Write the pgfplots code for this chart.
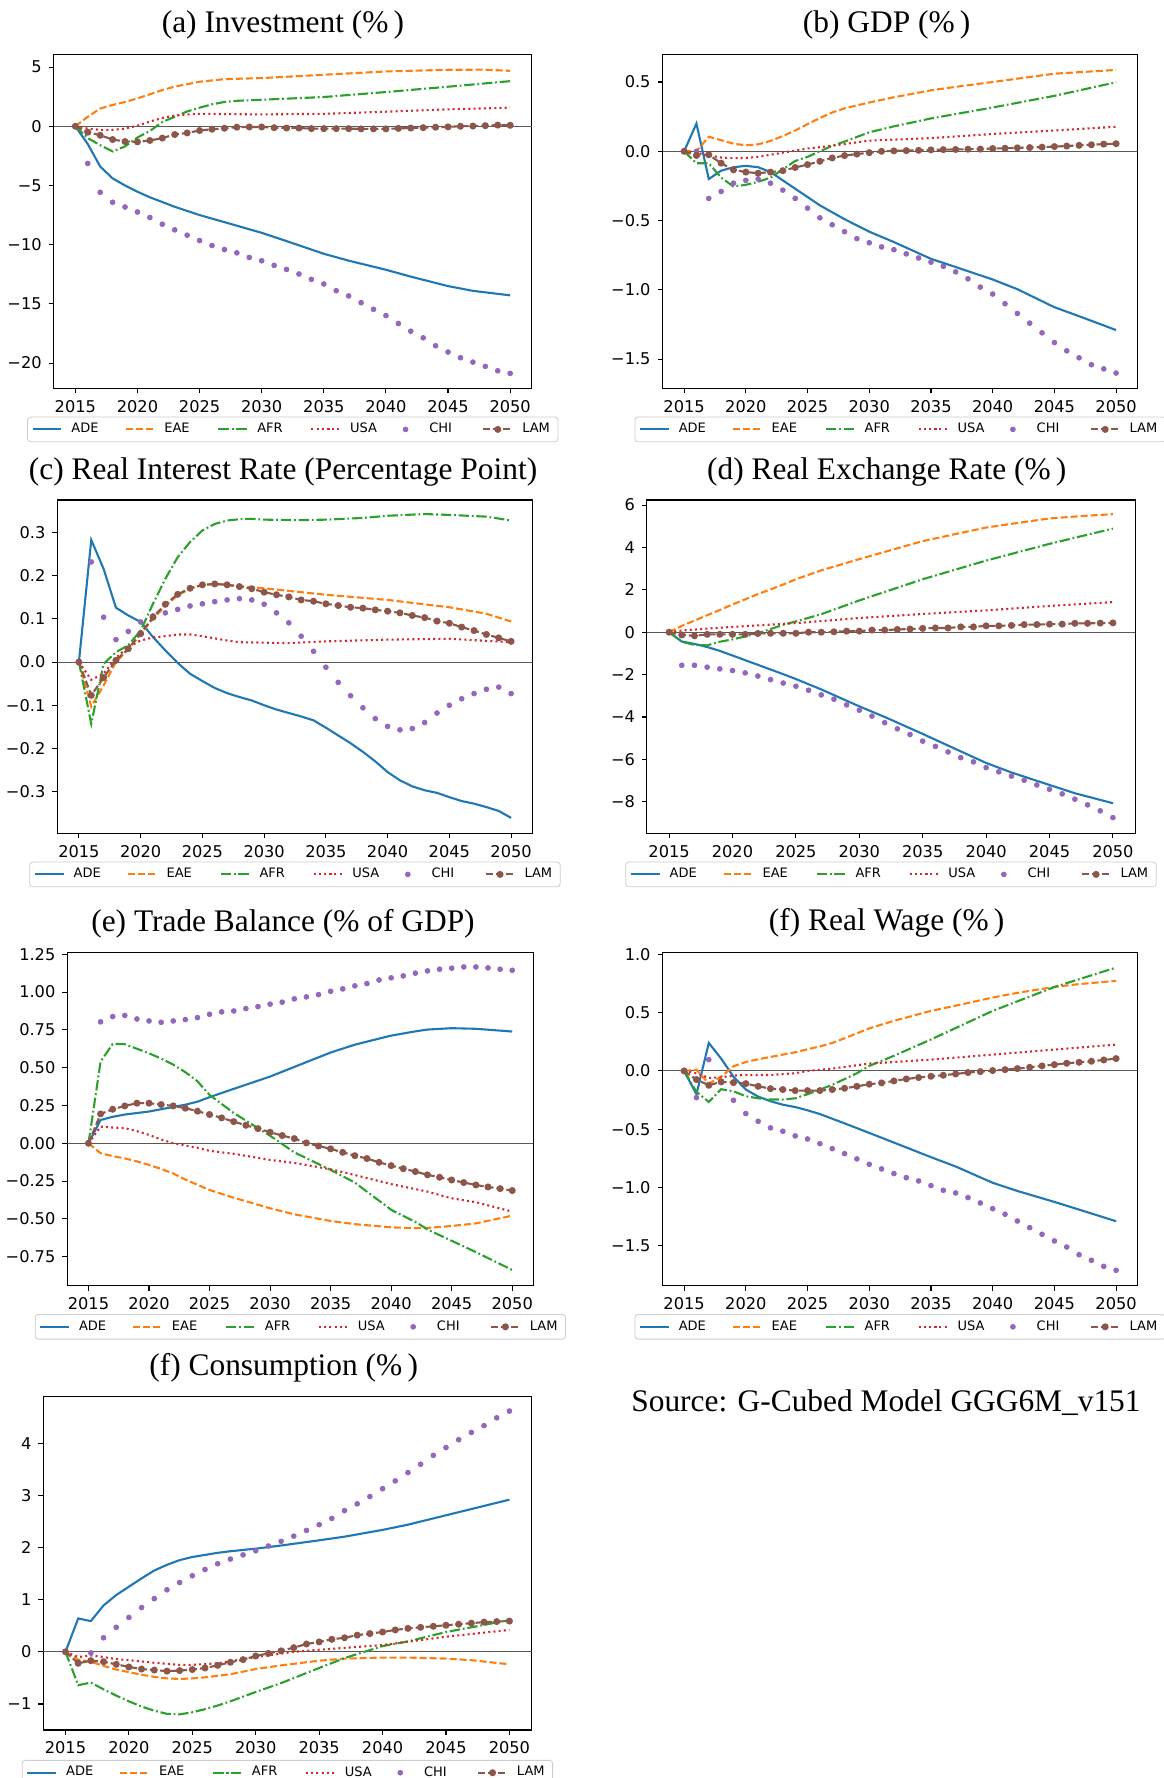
\documentclass[border=0pt]{standalone}
\usepackage{fontspec}
\setmainfont{Liberation Serif}
\newfontfamily\dejavu{DejaVu Sans}
\usepackage{pgfplots}
\pgfplotsset{compat=1.18}
\definecolor{cADE}{HTML}{1F77B4}
\definecolor{cEAE}{HTML}{FF7F0E}
\definecolor{cAFR}{HTML}{2CA02C}
\definecolor{cUSA}{HTML}{D62728}
\definecolor{cCHI}{HTML}{9467BD}
\definecolor{cLAM}{HTML}{8C564B}
\newcommand\tickfont{\dejavu\fontsize{8.1}{9.7}\selectfont}
\newcommand\legfont{\dejavu\fontsize{6.5}{7.8}\selectfont}
\newcommand\titfont{\fontsize{15.7}{19}\selectfont}
\newcommand\lgd[1]{\makebox[24.5pt][l]{#1}}
\pgfplotsset{
 legend image code/.code={\draw[mark repeat=2,mark phase=2,#1] plot coordinates {(0pt,0pt) (7.2pt,0pt) (14.4pt,0pt)};\path (16.9pt,0pt);},
 sADE/.style={color=cADE, line width=1.05pt, solid, mark=none},
 sEAE/.style={color=cEAE, line width=1.05pt, dash pattern=on 3.5pt off 1.5pt, mark=none},
 sAFR/.style={color=cAFR, line width=1.05pt, dash pattern=on 5.2pt off 1.4pt on 0.9pt off 1.4pt, mark=none},
 sUSA/.style={color=cUSA, line width=1.05pt, dash pattern=on 1.0pt off 1.6pt, mark=none},
 sCHI/.style={color=cCHI, only marks, mark=*, mark size=1.2pt},
 sLAM/.style={color=cLAM, line width=1.05pt, dash pattern=on 3.5pt off 1.5pt, mark=*, mark size=1.2pt, mark options={solid}},
 zline/.style={forget plot, black!65, line width=0.55pt},
 panel/.style={
  scale only axis, anchor=south west,
  xmin=2013.25, xmax=2051.75,
  xtick={2015,2020,2025,2030,2035,2040,2045,2050},
  xticklabels={2015,2020,2025,2030,2035,2040,2045,2050},
  tick align=outside, major tick length=2.45pt,
  every tick/.style={black, line width=0.56pt},
  axis line style={line width=0.56pt},
  xtick pos=lower, ytick pos=left,
  ticklabel style={font=\tickfont},
  legend columns=6,
  legend style={at={(0.5,0)}, anchor=north, yshift=-14.2pt, font=\legfont,
    draw=black!20, rounded corners=1.5pt, inner xsep=2pt, inner ysep=1pt},
 },
}
\begin{document}
\begin{tikzpicture}
\useasboundingbox (0,0) rectangle (581.5pt,889pt);

% ---------------- (a) Investment
\begin{axis}[panel, at={(26.8pt,694.85pt)}, width=239.15pt, height=167pt,
  ymin=-22.13, ymax=6.08, ytick={-20,-15,-10,-5,0,5},
  yticklabels={−20,−15,−10,−5,0,5}]
\addplot[zline] coordinates {(2013.25,0) (2051.75,0)};
\addplot[sADE] coordinates {(2015,0)(2016,-1.5)(2017,-3.4)(2018,-4.4)(2019,-5.0)(2020,-5.53)(2021,-6.0)(2022,-6.4)(2023,-6.8)(2024,-7.15)(2025,-7.5)(2027,-8.1)(2030,-9.0)(2032,-9.7)(2035,-10.77)(2037,-11.35)(2040,-12.12)(2042,-12.7)(2045,-13.5)(2047,-13.9)(2050,-14.28)};
\addplot[sEAE] coordinates {(2015,0)(2016,0.8)(2017,1.5)(2018,1.8)(2019,2.05)(2020,2.36)(2021,2.7)(2022,3.05)(2023,3.35)(2024,3.55)(2025,3.76)(2027,3.98)(2030,4.07)(2035,4.35)(2040,4.63)(2045,4.77)(2048,4.78)(2050,4.68)};
\addplot[sAFR] coordinates {(2015,0)(2016,-1.0)(2017,-1.6)(2018,-2.13)(2019,-1.7)(2020,-0.95)(2021,-0.4)(2022,0.36)(2023,0.8)(2024,1.25)(2025,1.57)(2026,1.85)(2027,2.05)(2028,2.15)(2030,2.24)(2035,2.47)(2040,2.89)(2045,3.34)(2050,3.81)};
\addplot[sUSA] coordinates {(2015,0)(2016,-0.2)(2017,-0.3)(2018,-0.3)(2019,-0.2)(2020,0.05)(2021,0.4)(2022,0.7)(2023,0.9)(2024,1.0)(2025,1.05)(2030,1.0)(2035,1.05)(2040,1.23)(2045,1.43)(2050,1.57)};
\addplot[sCHI] coordinates {(2015,0)(2016,-3.14)(2017,-5.58)(2018,-6.42)(2019,-6.82)(2020,-7.24)(2021,-7.71)(2022,-8.27)(2023,-8.75)(2024,-9.2)(2025,-9.65)(2026,-10.07)(2027,-10.41)(2028,-10.69)(2029,-11.08)(2030,-11.36)(2031,-11.75)(2032,-12.09)(2033,-12.48)(2034,-12.93)(2035,-13.32)(2036,-13.89)(2037,-14.33)(2038,-14.9)(2039,-15.46)(2040,-15.99)(2041,-16.66)(2042,-17.31)(2043,-17.87)(2044,-18.54)(2045,-19.07)(2046,-19.55)(2047,-19.92)(2048,-20.28)(2049,-20.65)(2050,-20.87)};
\addplot[sLAM] coordinates {(2015,0)(2016,-0.5)(2017,-0.76)(2018,-1.12)(2019,-1.29)(2020,-1.32)(2021,-1.2)(2022,-1.0)(2023,-0.7)(2024,-0.56)(2025,-0.36)(2026,-0.25)(2027,-0.17)(2028,-0.08)(2029,-0.06)(2030,-0.06)(2031,-0.12)(2032,-0.15)(2033,-0.15)(2034,-0.2)(2035,-0.2)(2036,-0.2)(2037,-0.2)(2038,-0.22)(2039,-0.22)(2040,-0.22)(2041,-0.18)(2042,-0.15)(2043,-0.12)(2044,-0.08)(2045,-0.05)(2046,0.0)(2047,0.02)(2048,0.05)(2049,0.1)(2050,0.08)};
\legend{\lgd{ADE},\lgd{EAE},\lgd{AFR},\lgd{USA},\lgd{CHI},LAM}
\end{axis}

% ---------------- (b) GDP
\begin{axis}[panel, at={(331.25pt,694.85pt)}, width=237.6pt, height=167pt,
  ymin=-1.71, ymax=0.70, ytick={-1.5,-1,-0.5,0,0.5},
  yticklabels={−1.5,−1.0,−0.5,0.0,0.5}]
\addplot[zline] coordinates {(2013.25,0) (2051.75,0)};
\addplot[sADE] coordinates {(2015,0)(2016,0.20)(2017,-0.20)(2018,-0.14)(2019,-0.115)(2020,-0.105)(2021,-0.115)(2022,-0.15)(2023,-0.21)(2024,-0.27)(2025,-0.33)(2026,-0.39)(2027,-0.44)(2028,-0.49)(2030,-0.58)(2032,-0.655)(2035,-0.776)(2037,-0.835)(2040,-0.925)(2042,-0.995)(2045,-1.125)(2047,-1.19)(2050,-1.29)};
\addplot[sEAE] coordinates {(2015,0)(2016,0.0)(2017,0.105)(2018,0.08)(2019,0.055)(2020,0.043)(2021,0.05)(2022,0.075)(2023,0.11)(2024,0.15)(2025,0.196)(2026,0.24)(2027,0.28)(2028,0.31)(2030,0.352)(2032,0.39)(2035,0.44)(2037,0.465)(2040,0.5)(2045,0.56)(2050,0.587)};
\addplot[sAFR] coordinates {(2015,0)(2016,-0.086)(2017,-0.086)(2018,-0.19)(2019,-0.254)(2020,-0.242)(2021,-0.22)(2022,-0.19)(2023,-0.13)(2024,-0.07)(2025,-0.04)(2026,0.0)(2027,0.04)(2028,0.07)(2030,0.137)(2032,0.18)(2035,0.237)(2040,0.316)(2045,0.40)(2050,0.498)};
\addplot[sUSA] coordinates {(2015,0)(2016,-0.01)(2017,-0.03)(2018,-0.045)(2019,-0.05)(2020,-0.048)(2021,-0.04)(2022,-0.025)(2023,-0.01)(2024,0.005)(2025,0.02)(2027,0.04)(2030,0.077)(2035,0.095)(2040,0.125)(2045,0.15)(2050,0.177)};
\addplot[sCHI] coordinates {(2015,0)(2016,0.0)(2017,-0.34)(2018,-0.29)(2019,-0.23)(2020,-0.21)(2021,-0.2)(2022,-0.23)(2023,-0.28)(2024,-0.34)(2025,-0.41)(2026,-0.48)(2027,-0.53)(2028,-0.58)(2029,-0.63)(2030,-0.66)(2031,-0.69)(2032,-0.71)(2033,-0.74)(2034,-0.77)(2035,-0.80)(2036,-0.83)(2037,-0.87)(2038,-0.92)(2039,-0.98)(2040,-1.03)(2041,-1.10)(2042,-1.17)(2043,-1.24)(2044,-1.31)(2045,-1.38)(2046,-1.44)(2047,-1.49)(2048,-1.54)(2049,-1.57)(2050,-1.60)};
\addplot[sLAM] coordinates {(2015,0)(2016,-0.03)(2017,-0.025)(2018,-0.086)(2019,-0.134)(2020,-0.15)(2021,-0.158)(2022,-0.15)(2023,-0.14)(2024,-0.117)(2025,-0.096)(2026,-0.072)(2027,-0.048)(2028,-0.031)(2029,-0.02)(2030,-0.01)(2031,0.0)(2032,0.003)(2033,0.005)(2034,0.007)(2035,0.01)(2036,0.012)(2037,0.013)(2038,0.015)(2039,0.016)(2040,0.02)(2041,0.022)(2042,0.025)(2043,0.027)(2044,0.03)(2045,0.034)(2046,0.038)(2047,0.043)(2048,0.047)(2049,0.052)(2050,0.055)};
\legend{\lgd{ADE},\lgd{EAE},\lgd{AFR},\lgd{USA},\lgd{CHI},LAM}
\end{axis}

% ---------------- (c) Real interest rate
\begin{axis}[panel, at={(28.65pt,472.35pt)}, width=237.7pt, height=166.65pt,
  ymin=-0.3967, ymax=0.3756, ytick={-0.3,-0.2,-0.1,0,0.1,0.2,0.3},
  yticklabels={−0.3,−0.2,−0.1,0.0,0.1,0.2,0.3}]
\addplot[zline] coordinates {(2013.25,0) (2051.75,0)};
\addplot[sADE] coordinates {(2015,0)(2016,0.283)(2017,0.216)(2018,0.126)(2019,0.108)(2020,0.093)(2021,0.058)(2022,0.027)(2023,-0.002)(2024,-0.027)(2025,-0.044)(2026,-0.060)(2027,-0.072)(2028,-0.081)(2029,-0.089)(2030,-0.1)(2031,-0.11)(2032,-0.118)(2033,-0.126)(2034,-0.135)(2035,-0.152)(2036,-0.17)(2037,-0.188)(2038,-0.208)(2039,-0.23)(2040,-0.255)(2041,-0.274)(2042,-0.288)(2043,-0.297)(2044,-0.303)(2045,-0.313)(2046,-0.322)(2047,-0.328)(2048,-0.336)(2049,-0.345)(2050,-0.361)};
\addplot[sEAE] coordinates {(2015,0)(2016,-0.103)(2017,-0.054)(2018,0.0)(2019,0.03)(2020,0.065)(2021,0.1)(2022,0.13)(2023,0.155)(2024,0.17)(2025,0.178)(2026,0.181)(2027,0.179)(2028,0.176)(2030,0.171)(2035,0.156)(2040,0.144)(2045,0.127)(2048,0.112)(2050,0.094)};
\addplot[sAFR] coordinates {(2015,0)(2016,-0.143)(2017,-0.004)(2018,0.023)(2019,0.039)(2020,0.073)(2021,0.135)(2022,0.193)(2023,0.243)(2024,0.278)(2025,0.305)(2026,0.32)(2027,0.328)(2028,0.331)(2029,0.332)(2030,0.33)(2033,0.329)(2035,0.33)(2038,0.334)(2040,0.339)(2043,0.343)(2045,0.341)(2048,0.337)(2050,0.328)};
\addplot[sUSA] coordinates {(2015,0)(2016,-0.041)(2017,-0.027)(2018,0.01)(2019,0.035)(2020,0.05)(2021,0.057)(2022,0.06)(2023,0.064)(2024,0.064)(2025,0.06)(2026,0.055)(2027,0.05)(2028,0.046)(2030,0.045)(2032,0.044)(2035,0.048)(2040,0.052)(2045,0.054)(2050,0.046)};
\addplot[sCHI] coordinates {(2015,0)(2016,0.232)(2017,0.104)(2018,0.052)(2019,0.071)(2020,0.093)(2021,0.107)(2022,0.114)(2023,0.122)(2024,0.13)(2025,0.135)(2026,0.14)(2027,0.144)(2028,0.147)(2029,0.144)(2030,0.134)(2031,0.114)(2032,0.091)(2033,0.06)(2034,0.025)(2035,-0.012)(2036,-0.047)(2037,-0.078)(2038,-0.106)(2039,-0.131)(2040,-0.149)(2041,-0.157)(2042,-0.154)(2043,-0.14)(2044,-0.118)(2045,-0.1)(2046,-0.085)(2047,-0.073)(2048,-0.063)(2049,-0.058)(2050,-0.073)};
\addplot[sLAM] coordinates {(2015,0)(2016,-0.077)(2017,-0.036)(2018,0.004)(2019,0.031)(2020,0.066)(2021,0.104)(2022,0.134)(2023,0.157)(2024,0.171)(2025,0.179)(2026,0.181)(2027,0.179)(2028,0.175)(2029,0.17)(2030,0.162)(2031,0.156)(2032,0.151)(2033,0.144)(2034,0.141)(2035,0.135)(2036,0.131)(2037,0.127)(2038,0.125)(2039,0.121)(2040,0.118)(2041,0.114)(2042,0.108)(2043,0.103)(2044,0.095)(2045,0.09)(2046,0.081)(2047,0.073)(2048,0.064)(2049,0.056)(2050,0.048)};
\legend{\lgd{ADE},\lgd{EAE},\lgd{AFR},\lgd{USA},\lgd{CHI},LAM}
\end{axis}

% ---------------- (d) Real exchange rate
\begin{axis}[panel, at={(323.45pt,472.35pt)}, width=244.1pt, height=166.65pt,
  ymin=-9.49, ymax=6.24, ytick={-8,-6,-4,-2,0,2,4,6},
  yticklabels={−8,−6,−4,−2,0,2,4,6}]
\addplot[zline] coordinates {(2013.25,0) (2051.75,0)};
\addplot[sADE] coordinates {(2015,0)(2016,-0.44)(2017,-0.55)(2018,-0.7)(2019,-0.88)(2020,-1.1)(2021,-1.32)(2022,-1.54)(2023,-1.76)(2024,-1.98)(2025,-2.21)(2027,-2.7)(2030,-3.5)(2032,-4.0)(2035,-4.8)(2037,-5.35)(2040,-6.17)(2042,-6.62)(2045,-7.21)(2047,-7.6)(2050,-8.07)};
\addplot[sEAE] coordinates {(2015,0)(2016,0.3)(2017,0.55)(2018,0.8)(2019,1.05)(2020,1.31)(2021,1.55)(2022,1.8)(2023,2.02)(2024,2.25)(2025,2.5)(2027,2.92)(2030,3.45)(2035,4.3)(2040,4.94)(2043,5.2)(2045,5.37)(2048,5.5)(2050,5.57)};
\addplot[sAFR] coordinates {(2015,0)(2016,-0.45)(2017,-0.6)(2018,-0.62)(2019,-0.45)(2020,-0.34)(2021,-0.2)(2022,-0.05)(2023,0.15)(2024,0.35)(2025,0.51)(2027,0.85)(2030,1.5)(2035,2.5)(2040,3.38)(2045,4.17)(2050,4.89)};
\addplot[sUSA] coordinates {(2015,0)(2016,0.08)(2017,0.12)(2018,0.17)(2020,0.25)(2025,0.43)(2030,0.67)(2035,0.86)(2040,1.03)(2045,1.24)(2050,1.42)};
\addplot[sCHI] coordinates {(2015,0)(2016,-1.56)(2017,-1.56)(2018,-1.65)(2019,-1.73)(2020,-1.81)(2021,-1.92)(2022,-2.07)(2023,-2.24)(2024,-2.4)(2025,-2.55)(2026,-2.74)(2027,-2.96)(2028,-3.16)(2029,-3.43)(2030,-3.68)(2031,-3.96)(2032,-4.27)(2033,-4.56)(2034,-4.83)(2035,-5.14)(2036,-5.39)(2037,-5.65)(2038,-5.92)(2039,-6.12)(2040,-6.39)(2041,-6.59)(2042,-6.79)(2043,-6.99)(2044,-7.21)(2045,-7.41)(2046,-7.63)(2047,-7.88)(2048,-8.15)(2049,-8.43)(2050,-8.75)};
\addplot[sLAM] coordinates {(2015,0)(2016,-0.13)(2017,-0.17)(2018,-0.1)(2019,-0.1)(2020,-0.1)(2021,-0.1)(2022,-0.06)(2023,-0.05)(2024,-0.05)(2025,-0.05)(2026,0.0)(2027,0.0)(2028,0.02)(2029,0.05)(2030,0.05)(2031,0.1)(2032,0.1)(2033,0.13)(2034,0.15)(2035,0.18)(2036,0.2)(2037,0.2)(2038,0.25)(2039,0.25)(2040,0.3)(2041,0.3)(2042,0.32)(2043,0.36)(2044,0.36)(2045,0.38)(2046,0.38)(2047,0.42)(2048,0.42)(2049,0.43)(2050,0.44)};
\legend{\lgd{ADE},\lgd{EAE},\lgd{AFR},\lgd{USA},\lgd{CHI},LAM}
\end{axis}

% ---------------- (e) Trade balance
\begin{axis}[panel, at={(33.65pt,246.15pt)}, width=233.05pt, height=166.7pt,
  ymin=-0.942, ymax=1.263, ytick={-0.75,-0.5,-0.25,0,0.25,0.5,0.75,1,1.25},
  yticklabels={−0.75,−0.50,−0.25,0.00,0.25,0.50,0.75,1.00,1.25}]
\addplot[zline] coordinates {(2013.25,0) (2051.75,0)};
\addplot[sADE] coordinates {(2015,0)(2016,0.154)(2017,0.175)(2018,0.19)(2019,0.2)(2020,0.21)(2021,0.225)(2022,0.24)(2023,0.255)(2024,0.275)(2025,0.305)(2027,0.36)(2030,0.441)(2032,0.505)(2035,0.6)(2037,0.652)(2040,0.712)(2042,0.74)(2043,0.752)(2045,0.761)(2047,0.757)(2050,0.739)};
\addplot[sEAE] coordinates {(2015,0)(2016,-0.066)(2017,-0.085)(2018,-0.1)(2019,-0.12)(2020,-0.143)(2021,-0.17)(2022,-0.2)(2023,-0.24)(2024,-0.275)(2025,-0.309)(2027,-0.36)(2030,-0.43)(2032,-0.47)(2035,-0.514)(2037,-0.535)(2040,-0.556)(2042,-0.562)(2043,-0.56)(2045,-0.547)(2047,-0.53)(2050,-0.479)};
\addplot[sAFR] coordinates {(2015,0)(2016,0.54)(2017,0.657)(2018,0.655)(2019,0.625)(2020,0.595)(2021,0.56)(2022,0.52)(2023,0.47)(2024,0.41)(2025,0.32)(2026,0.26)(2027,0.2)(2028,0.15)(2030,0.05)(2032,-0.06)(2035,-0.176)(2037,-0.26)(2040,-0.44)(2042,-0.52)(2043,-0.57)(2045,-0.645)(2047,-0.72)(2050,-0.838)};
\addplot[sUSA] coordinates {(2015,0)(2016,0.11)(2017,0.104)(2018,0.1)(2019,0.08)(2020,0.055)(2021,0.025)(2022,0.0)(2023,-0.015)(2024,-0.03)(2025,-0.05)(2027,-0.07)(2030,-0.11)(2032,-0.13)(2035,-0.172)(2037,-0.21)(2040,-0.27)(2043,-0.32)(2045,-0.364)(2047,-0.39)(2050,-0.452)};
\addplot[sCHI] coordinates {(2015,0)(2016,0.803)(2017,0.838)(2018,0.845)(2019,0.822)(2020,0.809)(2021,0.80)(2022,0.809)(2023,0.818)(2024,0.831)(2025,0.853)(2026,0.869)(2027,0.875)(2028,0.891)(2029,0.904)(2030,0.92)(2031,0.933)(2032,0.955)(2033,0.968)(2034,0.983)(2035,1.005)(2036,1.021)(2037,1.041)(2038,1.056)(2039,1.08)(2040,1.094)(2041,1.107)(2042,1.125)(2043,1.14)(2044,1.151)(2045,1.158)(2046,1.166)(2047,1.166)(2048,1.16)(2049,1.151)(2050,1.144)};
\addplot[sLAM] coordinates {(2015,0)(2016,0.194)(2017,0.225)(2018,0.247)(2019,0.265)(2020,0.265)(2021,0.256)(2022,0.247)(2023,0.232)(2024,0.212)(2025,0.19)(2026,0.168)(2027,0.143)(2028,0.119)(2029,0.097)(2030,0.073)(2031,0.051)(2032,0.031)(2033,0.002)(2034,-0.018)(2035,-0.037)(2036,-0.06)(2037,-0.082)(2038,-0.101)(2039,-0.126)(2040,-0.148)(2041,-0.168)(2042,-0.187)(2043,-0.209)(2044,-0.225)(2045,-0.243)(2046,-0.26)(2047,-0.276)(2048,-0.289)(2049,-0.3)(2050,-0.313)};
\legend{\lgd{ADE},\lgd{EAE},\lgd{AFR},\lgd{USA},\lgd{CHI},LAM}
\end{axis}

% ---------------- (f) Real wage
\begin{axis}[panel, at={(331.25pt,246.15pt)}, width=237.6pt, height=166.7pt,
  ymin=-1.843, ymax=1.018, ytick={-1.5,-1,-0.5,0,0.5,1},
  yticklabels={−1.5,−1.0,−0.5,0.0,0.5,1.0}]
\addplot[zline] coordinates {(2013.25,0) (2051.75,0)};
\addplot[sADE] coordinates {(2015,0)(2016,-0.2)(2017,0.24)(2018,0.106)(2019,-0.05)(2020,-0.16)(2021,-0.22)(2022,-0.26)(2023,-0.29)(2024,-0.31)(2025,-0.338)(2026,-0.37)(2027,-0.41)(2028,-0.45)(2030,-0.532)(2032,-0.615)(2035,-0.74)(2037,-0.82)(2040,-0.96)(2042,-1.03)(2045,-1.124)(2047,-1.19)(2050,-1.29)};
\addplot[sEAE] coordinates {(2015,0)(2016,0.011)(2017,-0.109)(2018,-0.05)(2019,0.04)(2020,0.077)(2021,0.1)(2022,0.12)(2023,0.14)(2024,0.16)(2025,0.186)(2026,0.21)(2027,0.24)(2028,0.28)(2030,0.365)(2032,0.43)(2035,0.515)(2037,0.56)(2040,0.63)(2042,0.67)(2045,0.721)(2047,0.745)(2050,0.773)};
\addplot[sAFR] coordinates {(2015,0)(2016,-0.18)(2017,-0.266)(2018,-0.157)(2019,-0.175)(2020,-0.217)(2021,-0.235)(2022,-0.245)(2023,-0.246)(2024,-0.235)(2025,-0.2)(2026,-0.16)(2027,-0.12)(2028,-0.07)(2029,-0.02)(2030,0.043)(2032,0.13)(2035,0.27)(2040,0.515)(2045,0.72)(2050,0.887)};
\addplot[sUSA] coordinates {(2015,0)(2016,-0.02)(2017,-0.06)(2018,-0.055)(2019,-0.04)(2020,-0.035)(2022,-0.035)(2024,-0.02)(2025,0.0)(2027,0.02)(2030,0.063)(2035,0.097)(2040,0.14)(2045,0.183)(2050,0.226)};
\addplot[sCHI] coordinates {(2015,0)(2016,-0.229)(2017,0.097)(2018,-0.09)(2019,-0.252)(2020,-0.366)(2021,-0.432)(2022,-0.489)(2023,-0.518)(2024,-0.558)(2025,-0.584)(2026,-0.624)(2027,-0.667)(2028,-0.71)(2029,-0.755)(2030,-0.801)(2031,-0.841)(2032,-0.881)(2033,-0.916)(2034,-0.944)(2035,-0.984)(2036,-1.024)(2037,-1.047)(2038,-1.087)(2039,-1.133)(2040,-1.182)(2041,-1.23)(2042,-1.288)(2043,-1.345)(2044,-1.402)(2045,-1.459)(2046,-1.511)(2047,-1.577)(2048,-1.625)(2049,-1.677)(2050,-1.711)};
\addplot[sLAM] coordinates {(2015,0)(2016,-0.074)(2017,-0.123)(2018,-0.094)(2019,-0.1)(2020,-0.109)(2021,-0.132)(2022,-0.152)(2023,-0.16)(2024,-0.169)(2025,-0.169)(2026,-0.169)(2027,-0.16)(2028,-0.149)(2029,-0.132)(2030,-0.114)(2031,-0.103)(2032,-0.086)(2033,-0.069)(2034,-0.057)(2035,-0.046)(2036,-0.037)(2037,-0.026)(2038,-0.014)(2039,-0.006)(2040,0.003)(2041,0.011)(2042,0.02)(2043,0.031)(2044,0.043)(2045,0.054)(2046,0.066)(2047,0.074)(2048,0.083)(2049,0.094)(2050,0.106)};
\legend{\lgd{ADE},\lgd{EAE},\lgd{AFR},\lgd{USA},\lgd{CHI},LAM}
\end{axis}

% ---------------- (g) Consumption
\begin{axis}[panel, at={(21.65pt,24pt)}, width=244.15pt, height=166.65pt,
  ymin=-1.5, ymax=4.896, ytick={-1,0,1,2,3,4},
  yticklabels={−1,0,1,2,3,4}, legend style={yshift=-0.8pt}]
\addplot[zline] coordinates {(2013.25,0) (2051.75,0)};
\addplot[sADE] coordinates {(2015,0)(2016,0.64)(2017,0.59)(2018,0.89)(2019,1.09)(2020,1.25)(2021,1.41)(2022,1.56)(2023,1.67)(2024,1.76)(2025,1.82)(2026,1.86)(2027,1.9)(2028,1.93)(2030,1.98)(2032,2.04)(2035,2.14)(2037,2.21)(2040,2.34)(2042,2.44)(2045,2.62)(2047,2.74)(2050,2.92)};
\addplot[sEAE] coordinates {(2015,0)(2016,-0.15)(2017,-0.19)(2018,-0.27)(2019,-0.34)(2020,-0.39)(2021,-0.44)(2022,-0.48)(2023,-0.51)(2024,-0.52)(2025,-0.51)(2026,-0.49)(2027,-0.46)(2028,-0.43)(2030,-0.33)(2032,-0.26)(2035,-0.17)(2037,-0.13)(2040,-0.11)(2042,-0.11)(2045,-0.13)(2047,-0.16)(2050,-0.24)};
\addplot[sAFR] coordinates {(2015,0)(2016,-0.64)(2017,-0.59)(2018,-0.72)(2019,-0.84)(2020,-0.95)(2021,-1.05)(2022,-1.13)(2023,-1.19)(2024,-1.2)(2025,-1.16)(2026,-1.1)(2027,-1.03)(2028,-0.95)(2030,-0.77)(2032,-0.6)(2035,-0.31)(2037,-0.12)(2040,0.11)(2042,0.2)(2045,0.38)(2047,0.47)(2050,0.61)};
\addplot[sUSA] coordinates {(2015,0)(2016,-0.1)(2017,-0.07)(2018,-0.1)(2019,-0.14)(2020,-0.16)(2022,-0.21)(2024,-0.25)(2025,-0.25)(2027,-0.22)(2030,-0.1)(2033,0.0)(2035,0.04)(2040,0.13)(2045,0.29)(2050,0.42)};
\addplot[sCHI] coordinates {(2015,0)(2016,-0.2)(2017,-0.02)(2018,0.27)(2019,0.47)(2020,0.66)(2021,0.85)(2022,1.02)(2023,1.19)(2024,1.33)(2025,1.46)(2026,1.58)(2027,1.69)(2028,1.78)(2029,1.86)(2030,1.94)(2031,2.03)(2032,2.12)(2033,2.22)(2034,2.33)(2035,2.44)(2036,2.56)(2037,2.71)(2038,2.84)(2039,2.98)(2040,3.13)(2041,3.28)(2042,3.44)(2043,3.6)(2044,3.77)(2045,3.92)(2046,4.07)(2047,4.21)(2048,4.34)(2049,4.49)(2050,4.62)};
\addplot[sLAM] coordinates {(2015,0)(2016,-0.22)(2017,-0.17)(2018,-0.19)(2019,-0.24)(2020,-0.29)(2021,-0.33)(2022,-0.35)(2023,-0.37)(2024,-0.36)(2025,-0.34)(2026,-0.31)(2027,-0.26)(2028,-0.2)(2029,-0.15)(2030,-0.08)(2031,-0.03)(2032,0.02)(2033,0.08)(2034,0.15)(2035,0.19)(2036,0.24)(2037,0.27)(2038,0.32)(2039,0.35)(2040,0.38)(2041,0.42)(2042,0.45)(2043,0.47)(2044,0.49)(2045,0.51)(2046,0.53)(2047,0.55)(2048,0.57)(2049,0.58)(2050,0.59)};
\legend{\lgd{ADE},\lgd{EAE},\lgd{AFR},\lgd{USA},\lgd{CHI},LAM}
\end{axis}

% ---------------- titles and source
\node[font=\titfont] at (141.5pt,876.5pt) {(a) Investment (\%\,)};
\node[font=\titfont] at (443.35pt,876.5pt) {(b) GDP (\%\,)};
\node[font=\titfont] at (141.5pt,653.15pt) {(c) Real Interest Rate (Percentage Point)};
\node[font=\titfont] at (443.35pt,653.15pt) {(d) Real Exchange Rate (\%\,)};
\node[font=\titfont] at (141.5pt,427.35pt) {(e) Trade Balance (\% of GDP)};
\node[font=\titfont] at (443.35pt,427.35pt) {(f) Real Wage (\%\,)};
\node[font=\titfont] at (141.85pt,205pt) {(f) Consumption (\%\,)};
\node[font=\titfont] at (443pt,187.5pt) {Source: G-Cubed Model GGG6M\_v151};
\end{tikzpicture}
\end{document}
